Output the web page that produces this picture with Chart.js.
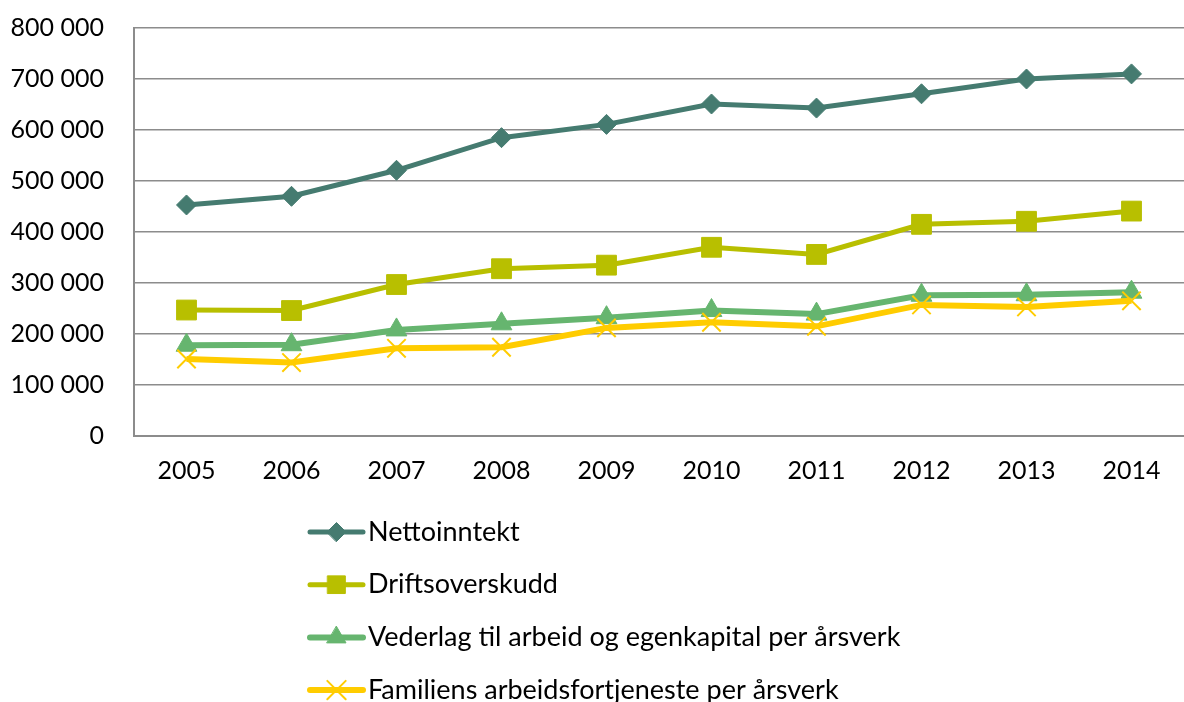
<!DOCTYPE html>
<html>
<head>
<meta charset="utf-8">
<script src="https://cdn.jsdelivr.net/npm/chart.js@4/dist/chart.umd.min.js"></script>
<style>
html,body{margin:0;padding:0;background:#fff;overflow:hidden;}
canvas{display:block;}
</style>
</head>
<body>
<canvas id="c" width="1184" height="702" style="width:1184px;height:702px"></canvas>
<script>
const years = ['2005','2006','2007','2008','2009','2010','2011','2012','2013','2014'];
const nettoinntekt = [453000, 470000, 521000, 585000, 611000, 651000, 643000, 671000, 700000, 710000];
const driftsoverskudd = [247000, 246000, 297000, 328000, 335000, 370000, 356000, 415000, 421000, 441000];
const vederlag = [178000, 179000, 208000, 220000, 232000, 246000, 239000, 276000, 277000, 282000];
const familiens = [151000, 144000, 172000, 174000, 212000, 223000, 215000, 257000, 253000, 265000];
const seriesNames = ['Nettoinntekt', 'Driftsoverskudd', 'Vederlag til arbeid og egenkapital per årsverk', 'Familiens arbeidsfortjeneste per årsverk'];
const yTicks = [0, 100000, 200000, 300000, 400000, 500000, 600000, 700000, 800000];

const FONT = 'Lato, "Open Sans", sans-serif';
const fmt = v => String(v).replace(/\B(?=(\d{3})+(?!\d))/g, ' ');

const legendPlugin = {
  id: 'vlegend',
  afterDraw(chart) {
    const ctx = chart.ctx;
    const area = chart.chartArea;
    const startY = area.bottom + 96;
    const step = 52.7;
    const x0 = 310, x1 = 363;
    chart.data.datasets.forEach((ds, i) => {
      const y = startY + i * step;
      ctx.save();
      ctx.strokeStyle = ds.borderColor;
      ctx.lineWidth = ds.borderWidth;
      ctx.lineCap = 'round';
      ctx.beginPath();
      ctx.moveTo(x0, y);
      ctx.lineTo(x1, y);
      ctx.stroke();
      ctx.fillStyle = ds.pointBackgroundColor;
      ctx.strokeStyle = ds.pointBorderColor;
      ctx.lineWidth = ds.pointBorderWidth;
      Chart.helpers.drawPoint(ctx, {
        pointStyle: ds.pointStyle,
        radius: ds.legendRadius,
        borderWidth: ds.pointBorderWidth,
        rotation: 0
      }, (x0 + x1) / 2, y);
      ctx.fillStyle = '#000';
      ctx.font = '27px ' + FONT;
      ctx.textBaseline = 'middle';
      ctx.textAlign = 'left';
      ctx.fillText(ds.label, 368, y);
      ctx.restore();
    });
  }
};

new Chart(document.getElementById('c'), {
  type: 'line',
  data: {
    labels: years,
    datasets: [
      { label: seriesNames[0], data: nettoinntekt, borderColor: '#457B70', backgroundColor: '#457B70',
        pointBackgroundColor: '#457B70', pointBorderColor: '#457B70', borderWidth: 5,
        pointStyle: 'rectRot', pointRadius: 10, pointBorderWidth: 1, legendRadius: 9.5, order: 4 },
      { label: seriesNames[1], data: driftsoverskudd, borderColor: '#B8BF00', backgroundColor: '#B8BF00',
        pointBackgroundColor: '#B8BF00', pointBorderColor: '#B8BF00', borderWidth: 5,
        pointStyle: 'rect', pointRadius: 14, pointBorderWidth: 1, legendRadius: 12.5, order: 3 },
      { label: seriesNames[2], data: vederlag, borderColor: '#66B56F', backgroundColor: '#66B56F',
        pointBackgroundColor: '#66B56F', pointBorderColor: '#66B56F', borderWidth: 6,
        pointStyle: 'triangle', pointRadius: 12, pointBorderWidth: 1, legendRadius: 11, order: 2 },
      { label: seriesNames[3], data: familiens, borderColor: '#FFCC00', backgroundColor: '#FFCC00',
        pointBackgroundColor: '#FFCC00', pointBorderColor: '#FFCC00', borderWidth: 6,
        pointStyle: 'crossRot', pointRadius: 13, pointBorderWidth: 2, legendRadius: 13, order: 1 }
    ]
  },
  options: {
    responsive: false,
    maintainAspectRatio: false,
    devicePixelRatio: 1,
    animation: false,
    layout: { autoPadding: false, padding: { top: 28, right: 0, bottom: 206, left: 0 } },
    plugins: { legend: { display: false }, tooltip: { enabled: false } },
    elements: { line: { tension: 0 } },
    scales: {
      x: {
        offset: true,
        grid: { display: false, drawTicks: false },
        border: { display: true, color: '#8c8c8c', width: 2 },
        ticks: { color: '#000', font: { family: FONT, size: 25 }, padding: 20, maxRotation: 0 },
        afterFit(s) { s.height = 60; s.paddingLeft = 0; s.paddingRight = 0; }
      },
      y: {
        min: 0, max: 800000,
        afterBuildTicks(s) { s.ticks = yTicks.map(v => ({ value: v })); },
        grid: { color: '#8c8c8c', lineWidth: 1.5, drawTicks: false },
        border: { display: true, color: '#8c8c8c', width: 2 },
        ticks: { color: '#000', font: { family: FONT, size: 25 }, padding: 30, callback: v => fmt(v) },
        afterFit(s) { s.width = 134; s.paddingTop = 0; s.paddingBottom = 0; s.paddingRight = 0; }
      }
    }
  },
  plugins: [legendPlugin]
});
</script>
</body>
</html>
